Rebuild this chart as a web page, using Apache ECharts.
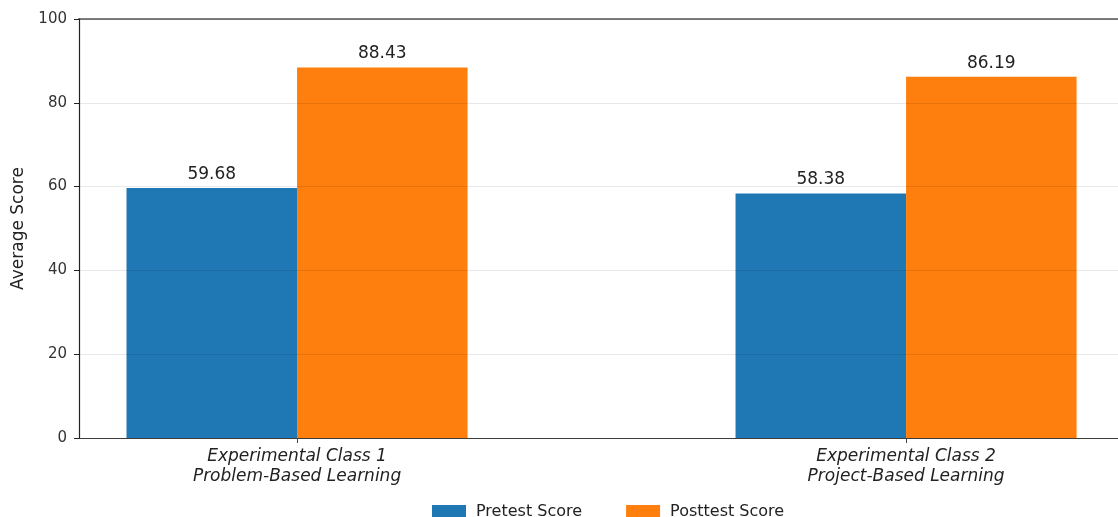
<!DOCTYPE html>
<html>
<head>
<meta charset="utf-8">
<title>Average Score</title>
<script src="https://cdn.jsdelivr.net/npm/echarts@6/dist/echarts.min.js"></script>
<style>
  html, body { margin: 0; padding: 0; background: #fff; }
  #chart { width: 1118px; height: 517px; }
</style>
</head>
<body>
<div id="chart"></div>
<script>
// chart data
const categories = [
  'Experimental Class 1\nProblem-Based Learning',
  'Experimental Class 2\nProject-Based Learning'
]
const seriesNames = ['Pretest Score', 'Posttest Score']
const pretestScores = [59.68, 58.38]
const posttestScores = [88.43, 86.19]
const yTicks = [0, 20, 40, 60, 80, 100]

const colors = ['#1f77b4', '#ff7f0e']
const font = 'DejaVu Sans'

// x range in category units (plot is cropped on the right in the original)
const xMin = -0.358
const xMax = 1.348

// bars sit on a value axis at category index, so spacing matches the original plot
const toPoints = values => values.map((v, i) => [i, v])

const chart = echarts.init(document.getElementById('chart'))

const barSeries = (name, values, color) => ({
  name,
  type: 'bar',
  data: toPoints(values),
  barWidth: '28%',
  barGap: '0%',
  itemStyle: { color },
  label: {
    show: true,
    position: 'top',
    distance: 5,
    fontFamily: font,
    fontSize: 17,
    color: '#222',
    formatter: p => p.value[1].toFixed(2)
  }
})

chart.setOption({
  animation: false,
  textStyle: { fontFamily: font },
  grid: { left: 79, right: 0, top: 19, bottom: 79 },
  legend: {
    data: seriesNames,
    left: 427,
    top: 499,
    itemWidth: 34,
    itemHeight: 14,
    itemGap: 44,
    icon: 'rect',
    textStyle: { fontFamily: font, fontSize: 16, color: '#222', padding: [0, 0, 0, 5] }
  },
  xAxis: [
    {
      type: 'value',
      min: xMin,
      max: xMax,
      splitLine: { show: false },
      axisLine: { show: true, onZero: false, lineStyle: { color: '#444', width: 1.2 } },
      axisTick: { show: true, customValues: [0, 1], length: 5, lineStyle: { color: '#444' } },
      axisLabel: {
        customValues: [0, 1],
        formatter: v => categories[Math.round(v)] || '',
        fontFamily: font,
        fontStyle: 'italic',
        fontSize: 17,
        lineHeight: 20,
        color: '#222',
        margin: 9
      }
    },
    {
      // top spine
      type: 'value',
      position: 'top',
      min: xMin,
      max: xMax,
      splitLine: { show: false },
      axisLine: { show: true, onZero: false, lineStyle: { color: '#808080', width: 2 } },
      axisTick: { show: false },
      axisLabel: { show: false }
    }
  ],
  yAxis: {
    type: 'value',
    min: yTicks[0],
    max: yTicks[yTicks.length - 1],
    interval: 20,
    z: 3,
    name: 'Average Score',
    nameLocation: 'middle',
    nameGap: 50,
    nameTextStyle: { fontFamily: font, fontSize: 17, color: '#222' },
    axisLine: { show: true, onZero: false, lineStyle: { color: '#222', width: 1.2 } },
    axisTick: { show: true, length: 5, lineStyle: { color: '#222' } },
    axisLabel: { fontFamily: font, fontSize: 15, color: '#333', margin: 12 },
    splitLine: { show: true, lineStyle: { color: 'rgba(0,0,0,0.09)', width: 1.2 } }
  },
  series: [
    barSeries(seriesNames[0], pretestScores, colors[0]),
    barSeries(seriesNames[1], posttestScores, colors[1])
  ]
})
</script>
</body>
</html>
